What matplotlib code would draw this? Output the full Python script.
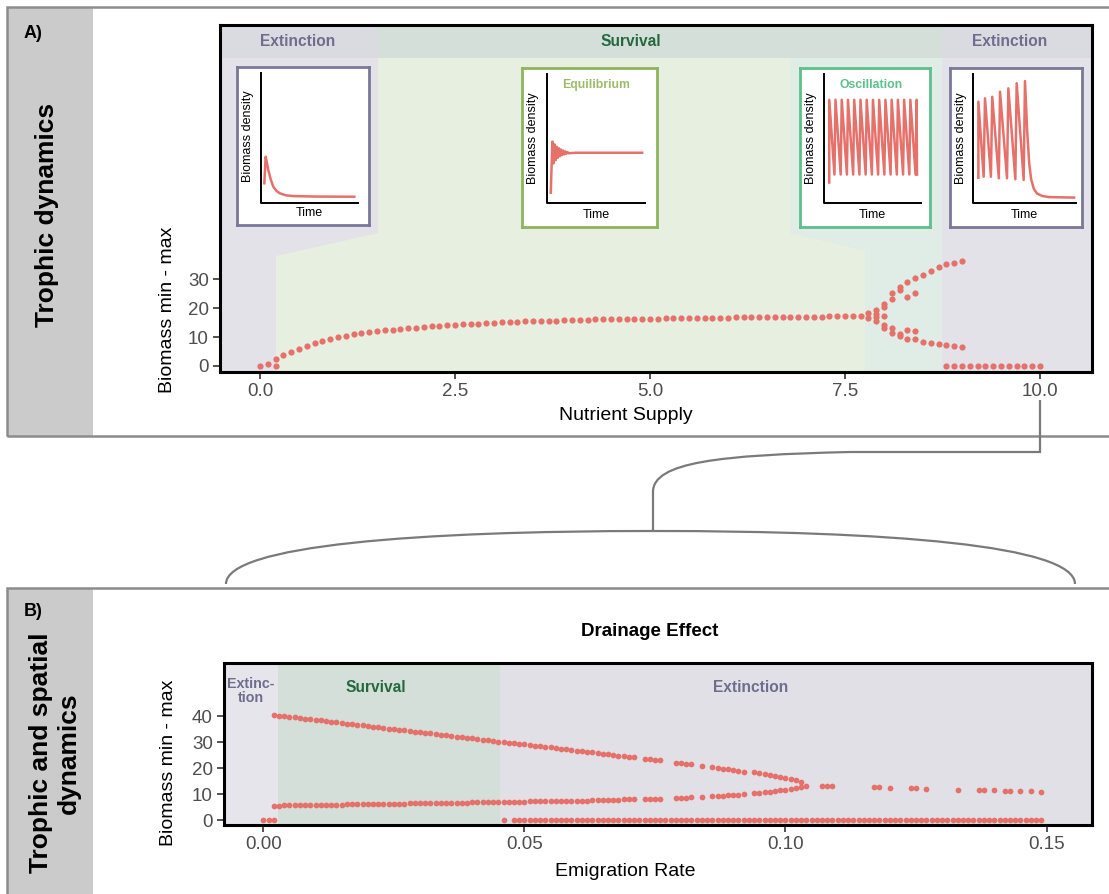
import matplotlib
matplotlib.use("Agg")
import matplotlib.pyplot as plt
from matplotlib.patches import Rectangle, Polygon, PathPatch
from matplotlib.path import Path

plt.rcParams['font.family'] = ['Liberation Sans', 'DejaVu Sans']

W, H = 1109, 894

# ---------------- panel A data (nutrient sweep, step 0.1) ----------------
nutrient = [round(0.1 * i, 1) for i in range(78)]          # 0.0 .. 7.7
biomass_a = [0.0, 0.7, 2.4, 3.7, 4.9, 6.0, 7.0, 7.8, 8.6, 9.3,
             9.9, 10.4, 10.9, 11.3, 11.7, 12.0, 12.3, 12.6, 12.9, 13.1,
             13.3, 13.5, 13.7, 13.9, 14.1, 14.3, 14.4, 14.6, 14.7, 14.9,
             15.0, 15.1, 15.2, 15.3, 15.4, 15.5, 15.6, 15.7, 15.7, 15.8,
             15.9, 15.9, 16.0, 16.1, 16.1, 16.2, 16.2, 16.3, 16.3, 16.4,
             16.4, 16.4, 16.5, 16.5, 16.5, 16.6, 16.6, 16.6, 16.7, 16.7,
             16.7, 16.8, 16.8, 16.8, 16.9, 16.9, 16.9, 17.0, 17.0, 17.0,
             17.1, 17.1, 17.1, 17.2, 17.2, 17.2, 17.3, 17.3]

# min / max values where the system oscillates
split_x = [0.2, 7.8, 7.8, 7.9, 7.9, 7.9, 7.9, 8.0, 8.0, 8.0, 8.0, 8.0,
           8.1, 8.1, 8.1, 8.1, 8.2, 8.2, 8.2, 8.2, 8.3, 8.3, 8.3, 8.3,
           8.4, 8.4, 8.4, 8.4, 8.5, 8.5, 8.6, 8.6, 8.7, 8.7, 8.8, 8.8,
           8.9, 8.9, 9.0, 9.0]
split_y = [0.0, 16.6, 18.2, 15.6, 16.8, 18.0, 19.4, 13.3, 14.2, 17.2, 20.5, 21.6,
           11.5, 13.2, 23.3, 25.3, 10.3, 11.0, 26.4, 27.4, 9.5, 12.4, 23.9, 29.1,
           9.2, 12.2, 25.1, 30.5, 8.4, 31.6, 7.8, 32.9, 7.5, 34.2, 7.1, 35.2,
           6.9, 35.6, 6.7, 36.3]
extinct_x = [8.8, 8.9, 9.0, 9.1, 9.2, 9.3, 9.4, 9.5, 9.6, 9.7, 9.8, 9.9, 10.0]
extinct_y = [0.0] * len(extinct_x)

# ---------------- panel B data (emigration rate, in 1/1000) ----------------
emig_branch = list(range(2, 72)) + [73, 74, 75, 76, 79, 80, 81, 82, 84,
                                    86, 87, 88, 89, 90, 91, 92] + list(range(94, 104))
upper_b = [40.4, 40.2, 39.9, 39.7, 39.5, 39.2, 39.0, 38.7, 38.5, 38.3,
           38.0, 37.8, 37.6, 37.3, 37.1, 36.9, 36.6, 36.4, 36.1, 35.9,
           35.7, 35.4, 35.2, 35.0, 34.7, 34.5, 34.3, 34.0, 33.8, 33.5,
           33.3, 33.1, 32.8, 32.6, 32.4, 32.1, 31.9, 31.6, 31.4, 31.2,
           30.9, 30.7, 30.5, 30.2, 30.0, 29.8, 29.5, 29.3, 29.1, 28.8,
           28.6, 28.3, 28.1, 27.9, 27.6, 27.4, 27.2, 26.9, 26.7, 26.4,
           26.2, 26.0, 25.7, 25.5, 25.3, 25.0, 24.8, 24.6, 24.3, 24.1,
           23.6, 23.4, 23.1, 22.9, 22.1, 21.9, 21.6, 21.4, 20.9,
           20.4, 20.1, 19.8, 19.5, 19.2, 18.9, 18.6,
           18.3, 18.0, 17.7, 17.4, 17.1, 16.7, 16.3, 15.8, 15.3, 14.6]
lower_b = [5.5, 5.5, 5.6, 5.6, 5.6, 5.7, 5.7, 5.7, 5.8, 5.8,
           5.8, 5.9, 5.9, 5.9, 6.0, 6.0, 6.0, 6.1, 6.1, 6.1,
           6.2, 6.2, 6.2, 6.3, 6.3, 6.3, 6.4, 6.4, 6.4, 6.5,
           6.5, 6.5, 6.6, 6.6, 6.6, 6.7, 6.7, 6.7, 6.8, 6.8,
           6.8, 6.9, 6.9, 6.9, 7.0, 7.0, 7.1, 7.1, 7.1, 7.2,
           7.2, 7.2, 7.3, 7.3, 7.3, 7.4, 7.4, 7.4, 7.5, 7.5,
           7.5, 7.6, 7.6, 7.7, 7.7, 7.8, 7.8, 7.9, 7.9, 8.0,
           8.1, 8.1, 8.2, 8.2, 8.5, 8.6, 8.6, 8.7, 8.8,
           9.1, 9.2, 9.4, 9.5, 9.7, 9.8, 10.0,
           10.3, 10.5, 10.7, 10.9, 11.1, 11.4, 11.7, 12.0, 12.3, 12.7]
merged_x = [104, 107, 108, 109, 117, 118, 120, 124, 125, 127, 133, 137, 138, 140,
            142, 143, 145, 147, 149]
merged_y = [13.2, 13.1, 13.1, 13.1, 12.6, 12.6, 12.5, 12.2, 12.2, 12.1, 11.7, 11.4,
            11.4, 11.4, 11.3, 11.3, 11.0, 11.0, 10.8]
zero_b_x = [0, 1, 2, 46] + list(range(48, 150))

# ---------------- inset time series sketches (box fractions) ----------------
decay_t = [0.207, 0.217, 0.225, 0.237, 0.255, 0.275, 0.30, 0.326, 0.37, 0.427, 0.6, 0.889]
decay_y = [0.264, 0.432, 0.40, 0.348, 0.29, 0.242, 0.215, 0.20, 0.188, 0.183, 0.18, 0.179]

equil_t = [0.213, 0.225, 0.233, 0.241, 0.249, 0.257, 0.265, 0.273, 0.281, 0.289,
           0.297, 0.305, 0.313, 0.321, 0.329, 0.337, 0.345, 0.40, 0.89]
equil_y = [0.216, 0.537, 0.40, 0.52, 0.42, 0.505, 0.435, 0.495, 0.445, 0.487,
           0.452, 0.48, 0.457, 0.475, 0.461, 0.471, 0.464, 0.467, 0.467]

osc_peak_t = [0.225, 0.273, 0.321, 0.369, 0.417, 0.465, 0.513, 0.561, 0.609,
              0.657, 0.705, 0.753, 0.801, 0.849, 0.897]
osc_trough_t = [0.265, 0.313, 0.361, 0.409, 0.457, 0.505, 0.553, 0.601, 0.649,
                0.697, 0.745, 0.793, 0.841, 0.889, 0.90]
osc_peak, osc_trough, osc_start = 0.80, 0.33, 0.28

grow_peak_t = [0.215, 0.265, 0.32, 0.379, 0.442, 0.505, 0.568]
grow_peak_y = [0.788, 0.809, 0.819, 0.851, 0.872, 0.904, 0.918]
grow_trough_t = [0.255, 0.31, 0.37, 0.432, 0.495, 0.558]
grow_trough_y = [0.316, 0.316, 0.306, 0.306, 0.30, 0.296]
crash_t = [0.585, 0.60, 0.615, 0.635, 0.66, 0.70, 0.75, 0.94]
crash_y = [0.60, 0.40, 0.30, 0.24, 0.21, 0.195, 0.188, 0.185]

DOT = '#e6706a'
EXT_TXT = '#6f6d8e'
SURV_TXT = '#25683e'


def box(x0, y0, x1, y1):
    return [x0 / W, 1 - y1 / H, (x1 - x0) / W, (y1 - y0) / H]


def fp(x, y):
    return (x / W, 1 - y / H)


fig = plt.figure(figsize=(W / 100, H / 100), dpi=100)

# ---- panel frames and side strips ----
for top, bot in [(7, 436), (588, 905)]:
    fig.add_artist(Rectangle(fp(8, bot), 85 / W, (bot - top) / H,
                             transform=fig.transFigure, fc='#cbcbcb', ec='none'))
    fig.add_artist(Rectangle(fp(7, bot), 1120 / W, (bot - top) / H,
                             transform=fig.transFigure, fill=False, ec='#8c8c8c', lw=1.8))

fig.text(*fp(33, 33), 'A)', fontsize=13, fontweight='bold', ha='center', va='center')
fig.text(*fp(33, 611), 'B)', fontsize=13, fontweight='bold', ha='center', va='center')
fig.text(*fp(47, 215), 'Trophic dynamics', fontsize=19, fontweight='bold',
         rotation=90, ha='center', va='center')
fig.text(*fp(55, 753), 'Trophic and spatial\ndynamics', fontsize=19, fontweight='bold',
         rotation=90, ha='center', va='center', multialignment='center', linespacing=1.2)

# ---- connector from A (N = 10) to B ----
conn = [(1040, 400), (1040, 452), (850, 452), (720, 455), (653, 462), (653, 492), (653, 531)]
codes = [Path.MOVETO, Path.LINETO, Path.LINETO, Path.CURVE4, Path.CURVE4, Path.CURVE4, Path.LINETO]
fig.add_artist(PathPatch(Path([fp(*p) for p in conn], codes), transform=fig.transFigure,
                         fill=False, ec='#7a7a7a', lw=1.6))
arch = [(226, 584), (226, 545), (420, 531), (653, 531), (886, 531), (1075, 545), (1075, 584)]
acodes = [Path.MOVETO] + [Path.CURVE4] * 6
fig.add_artist(PathPatch(Path([fp(*p) for p in arch], acodes), transform=fig.transFigure,
                         fill=False, ec='#7a7a7a', lw=1.6))


def style_axis(ax):
    for s in ax.spines.values():
        s.set_color('black')
        s.set_linewidth(2.2)
    ax.tick_params(labelsize=13.5, labelcolor='#4d4d4d', color='#333333',
                   length=5, width=1.2, pad=3)


# ================= panel A =================
axA = fig.add_axes(box(220, 25, 1092, 372))
axA.set_facecolor('#e2e2e8')
axA.set_xlim(-0.513, 10.667)
axA.set_ylim(-2.08, 118)


def af(x, y):
    return ((x - 220) / 872, (372 - y) / 347)


regions = [
    ([(220, 25), (378, 25), (378, 58), (220, 58)], '#dadae1'),
    ([(942, 25), (1092, 25), (1092, 58), (942, 58)], '#dadae1'),
    ([(378, 25), (942, 25), (942, 58), (378, 58)], '#d4dfd9'),
    ([(378, 58), (790, 58), (790, 233), (865, 250), (865, 372), (276, 372),
      (276, 256), (378, 233)], '#e6efe0'),
    ([(790, 58), (942, 58), (942, 372), (865, 372), (865, 250), (790, 233)], '#e0ede6'),
]
for pts, col in regions:
    axA.add_patch(Polygon([af(*p) for p in pts], closed=True, transform=axA.transAxes,
                          fc=col, ec='none', zorder=0))

axA.scatter(nutrient, biomass_a, s=20, color=DOT, linewidths=0, zorder=3)
axA.scatter(split_x, split_y, s=20, color=DOT, linewidths=0, zorder=3)
axA.scatter(extinct_x, extinct_y, s=20, color=DOT, linewidths=0, zorder=3)

axA.set_yticks([0, 10, 20, 30])
axA.set_xticks([0, 2.5, 5, 7.5, 10])
axA.set_xticklabels(['0.0', '2.5', '5.0', '7.5', '10.0'])
style_axis(axA)
axA.set_xlabel('Nutrient Supply', fontsize=14)
axA.set_ylabel('Biomass min - max', fontsize=14)
axA.xaxis.set_label_coords(*fp(626, 415), transform=fig.transFigure)
axA.yaxis.set_label_coords(*fp(167, 310), transform=fig.transFigure)
axA.xaxis.label.set_va('center')
axA.yaxis.label.set_va('center')

for x, txt, col in [(298, 'Extinction', EXT_TXT), (631, 'Survival', SURV_TXT),
                    (1010, 'Extinction', EXT_TXT)]:
    fig.text(*fp(x, 42), txt, fontsize=11.2, fontweight='bold', color=col,
             ha='center', va='center')

# ---- insets ----
osc_t, osc_y = [osc_peak_t[0]], [osc_start]
for pk, tr in zip(osc_peak_t, osc_trough_t):
    osc_t += [pk, tr]
    osc_y += [osc_peak, osc_trough]

grow_t, grow_y = [grow_peak_t[0]], [0.31]
for i, pk in enumerate(grow_peak_t):
    grow_t.append(pk)
    grow_y.append(grow_peak_y[i])
    if i < len(grow_trough_t):
        grow_t.append(grow_trough_t[i])
        grow_y.append(grow_trough_y[i])
grow_t += crash_t
grow_y += crash_y

insets = [
    ((237, 67, 369, 225), '#7a7899', decay_t, decay_y, 0.18, 0.14, 0.92, None, None),
    ((522, 68, 657, 227), '#8fb35e', equil_t, equil_y, 0.185, 0.15, 0.91,
     'Equilibrium', '#9dba6a'),
    ((800, 68, 930, 227), '#5dbf8b', osc_t, osc_y, 0.185, 0.15, 0.93,
     'Oscillation', '#5cc08a'),
    ((950, 68, 1082, 227), '#7a7899', grow_t, grow_y, 0.175, 0.15, 0.955, None, None),
]
for bx, edge, t, y, ax_x, base, x_end, title, tcol in insets:
    axi = fig.add_axes(box(*bx), zorder=5)
    axi.set_xlim(0, 1)
    axi.set_ylim(0, 1)
    axi.set_xticks([])
    axi.set_yticks([])
    axi.set_facecolor('white')
    for s in axi.spines.values():
        s.set_color(edge)
        s.set_linewidth(2.0)
    axi.plot([ax_x, ax_x, x_end], [0.965, base, base], color='black', lw=1.4)
    axi.plot(t, y, color=DOT, lw=1.8, solid_joinstyle='round')
    axi.text((ax_x + x_end) / 2, 0.078, 'Time', fontsize=9, ha='center', va='center')
    axi.text(0.085, 0.56, 'Biomass density', fontsize=9, rotation=90,
             ha='center', va='center')
    if title:
        axi.text(0.55, 0.89, title, fontsize=8.8, fontweight='bold', color=tcol,
                 ha='center', va='center')

# ================= panel B =================
axB = fig.add_axes(box(224, 663, 1092, 825))
axB.set_xlim(-0.00753, 0.1587)
axB.set_ylim(-1.92, 60.4)
axB.axvspan(-0.00753, 0.0029, color='#e5e5eb', lw=0, zorder=0)
axB.axvspan(0.0029, 0.0453, color='#d3dfd8', lw=0, zorder=0)
axB.axvspan(0.0453, 0.1587, color='#e0e0e6', lw=0, zorder=0)

bx_branch = [v / 1000 for v in emig_branch]
axB.scatter(bx_branch, upper_b, s=17, color=DOT, linewidths=0, zorder=3)
axB.scatter(bx_branch, lower_b, s=17, color=DOT, linewidths=0, zorder=3)
axB.scatter([v / 1000 for v in merged_x], merged_y, s=17, color=DOT, linewidths=0, zorder=3)
axB.scatter([v / 1000 for v in zero_b_x], [0.0] * len(zero_b_x), s=17, color=DOT,
            linewidths=0, zorder=3)

axB.set_yticks([0, 10, 20, 30, 40])
axB.set_xticks([0, 0.05, 0.10, 0.15])
axB.set_xticklabels(['0.00', '0.05', '0.10', '0.15'])
style_axis(axB)
axB.set_xlabel('Emigration Rate', fontsize=14)
axB.set_ylabel('Biomass min - max', fontsize=14)
axB.xaxis.set_label_coords(*fp(625, 872), transform=fig.transFigure)
axB.yaxis.set_label_coords(*fp(169, 763), transform=fig.transFigure)
axB.xaxis.label.set_va('center')
axB.yaxis.label.set_va('center')

fig.text(*fp(650, 631), 'Drainage Effect', fontsize=13.5, fontweight='bold',
         ha='center', va='center')
fig.text(*fp(251, 691), 'Extinc-\ntion', fontsize=10.3, fontweight='bold', color=EXT_TXT,
         ha='center', va='center', linespacing=1.05)
fig.text(*fp(376, 688), 'Survival', fontsize=11.2, fontweight='bold', color=SURV_TXT,
         ha='center', va='center')
fig.text(*fp(751, 688), 'Extinction', fontsize=11.2, fontweight='bold', color=EXT_TXT,
         ha='center', va='center')

fig.savefig('out.png', dpi=100)
